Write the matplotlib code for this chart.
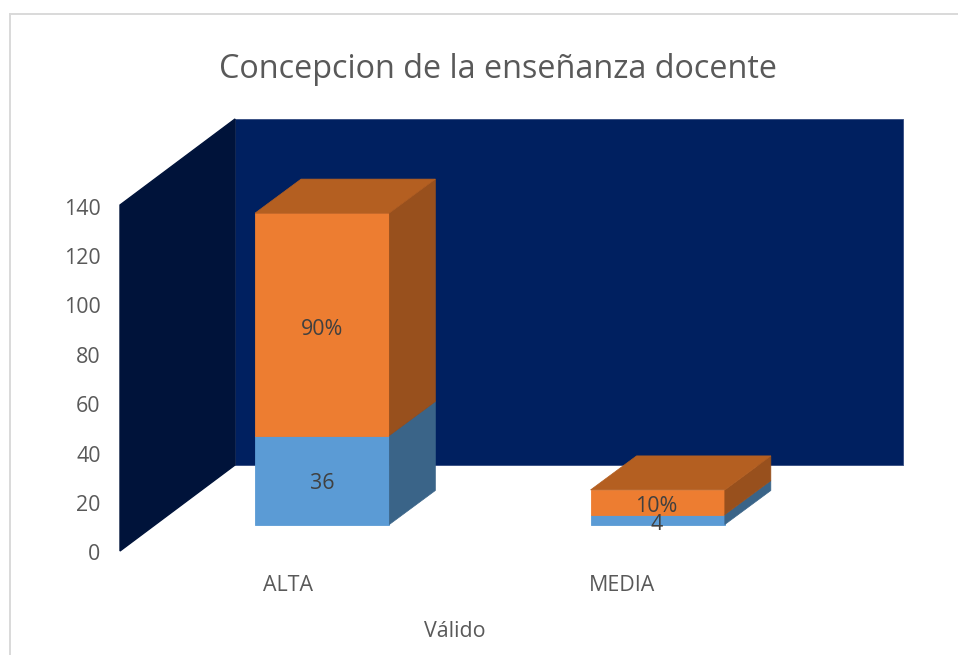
import matplotlib
matplotlib.use("Agg")
import matplotlib.pyplot as plt
from matplotlib.patches import Polygon
from matplotlib.lines import Line2D
from matplotlib.transforms import Affine2D

categories = ["ALTA", "MEDIA"]
counts = [36, 4]
shares = [90, 10]
count_labels = ["36", "4"]
share_labels = ["90%", "10%"]
y_ticks = [0, 20, 40, 60, 80, 100, 120, 140]
title = "Concepcion de la enseñanza docente"
x_title = "Válido"

W, H = 958, 655
plt.rcParams["font.family"] = ["Open Sans", "DejaVu Sans"]
TXT = "#595959"
FS = 15.4
fig = plt.figure(figsize=(W / 100, H / 100), dpi=100, facecolor="white")
L, R, T, B = 120, 788, 205, 551
ax = fig.add_axes([L / W, 1 - B / H, (R - L) / W, (B - T) / H])
ax.set_xlim(-0.5, 1.5)
ax.set_ylim(0, 140)
ax.patch.set_visible(False)
for s in ax.spines.values():
    s.set_visible(False)

DX, DY = 115, 86          # depth of the chart box in pixels
BX0, BY0 = 35.2, 26.5     # front face of the bars relative to the axis plane
BX_STEP = 1.5             # extra horizontal shift per category
BDX, BDY = 46, 34         # depth of the bars


def shifted(dx, dy):
    return ax.transData + Affine2D().translate(dx, dy)


# walls
ax.add_patch(Polygon([(-0.5, 0), (1.5, 0), (1.5, 140), (-0.5, 140)], closed=True,
                     facecolor="#002060", edgecolor="#3f5587", linewidth=0.7,
                     transform=shifted(DX, DY), zorder=1, clip_on=False))
wall_back = shifted(DX, DY).transform([(-0.5, 0), (-0.5, 140)])
wall_front = ax.transData.transform([(-0.5, 140), (-0.5, 0)])
fig.add_artist(Polygon(list(wall_back) + list(wall_front), closed=True, transform=None,
                       facecolor="#00133a", edgecolor="#00133a", linewidth=1.0, zorder=1.5))

BAR_W = 0.402
BLUE = ("#5B9BD5", "#3A6488")
ORANGE = ("#ED7D31", "#98501D")
TOP_COLOR = "#B45F21"


def stacked_box(i, bottom, value, style, z):
    front, side = style
    x1 = i + BAR_W / 2
    y1 = bottom + value
    bx = BX0 + BX_STEP * i
    ax.bar(i, value, BAR_W, bottom=bottom, color=front, edgecolor=front, linewidth=0.6,
           transform=shifted(bx, BY0), zorder=z + 0.2, clip_on=False)
    p0 = shifted(bx, BY0).transform([(x1, bottom), (x1, y1)])
    p1 = shifted(bx + BDX, BY0 + BDY).transform([(x1, y1), (x1, bottom)])
    fig.add_artist(Polygon(list(p0) + list(p1), closed=True, transform=None,
                           facecolor=side, edgecolor=side, linewidth=0.5, zorder=z + 2))
    return y1


for i, cat in enumerate(categories):
    z = 3 + i
    stacked_box(i, 0, counts[i], BLUE, z)
    top_val = stacked_box(i, counts[i], shares[i], ORANGE, z)
    x0, x1 = i - BAR_W / 2, i + BAR_W / 2
    bx = BX0 + BX_STEP * i
    p0 = shifted(bx, BY0).transform([(x0, top_val), (x1, top_val)])
    p1 = shifted(bx + BDX, BY0 + BDY).transform([(x1, top_val), (x0, top_val)])
    fig.add_artist(Polygon(list(p0) + list(p1), closed=True, transform=None,
                           facecolor=TOP_COLOR, edgecolor=TOP_COLOR, linewidth=0.5, zorder=z + 2))

for i in range(len(categories)):
    ax.text(i, counts[i] / 2, count_labels[i], transform=shifted(BX0, BY0 - 3 - 1.5 * i), ha="center",
            va="center", fontsize=FS, color="#404040", zorder=20)
    ax.text(i, counts[i] + shares[i] / 2, share_labels[i], transform=shifted(BX0, BY0 - 5 + i),
            ha="center", va="center", fontsize=FS, color="#404040", zorder=20)

ax.set_xticks(range(len(categories)), categories)
ax.set_yticks(y_ticks)
ax.tick_params(axis="both", length=0, labelsize=FS, labelcolor=TXT)
ax.tick_params(axis="x", pad=17)
ax.tick_params(axis="y", pad=14)
for lab in ax.get_yticklabels():
    lab.set_transform(lab.get_transform() + Affine2D().translate(0, -1.5))
for lab in ax.get_xticklabels():
    lab.set_transform(lab.get_transform() + Affine2D().translate(1, 0))
ax.set_xlabel(x_title, fontsize=FS, color=TXT, labelpad=18)
ax.xaxis.label.set_x(0.5015)

fig.text(498.5 / W, 1 - 70 / H, title, ha="center", va="center", fontsize=23.3, color=TXT)

# chart frame
fig.add_artist(Line2D([9.5 / W, 9.5 / W], [0, 1 - 13.5 / H], color="#D9D9D9", lw=1.4))
fig.add_artist(Line2D([9.5 / W, 1], [1 - 13.5 / H, 1 - 13.5 / H], color="#D9D9D9", lw=1.4))

fig.savefig("out.png", dpi=100)
